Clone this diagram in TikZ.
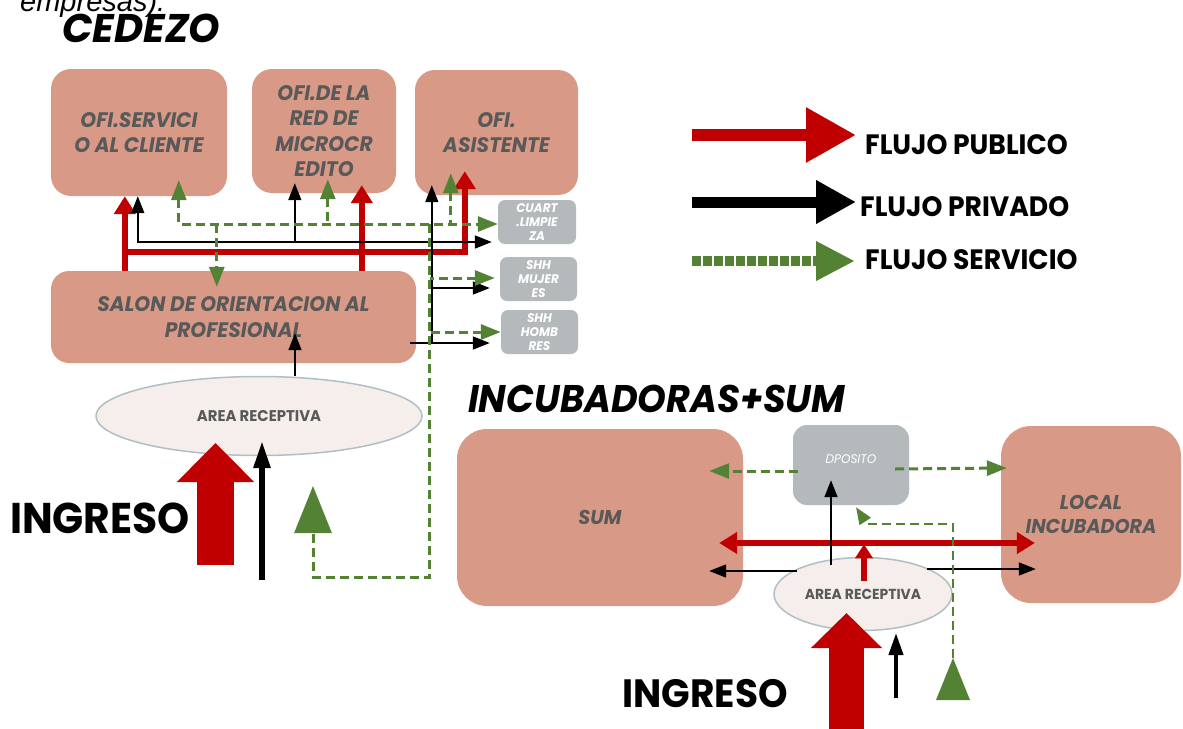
\documentclass[tikz,border=0pt]{standalone}
\usepackage{fontspec}
\setmainfont{Poppins}
\newfontfamily\arialfont{Liberation Sans}
\newfontfamily\boxfont[FakeStretch=0.96]{Poppins}
\newfontfamily\legfont[FakeStretch=0.95]{Poppins}
\usetikzlibrary{arrows.meta,shapes.geometric}
\definecolor{salmon}{RGB}{216,154,135}
\definecolor{boxgray}{RGB}{180,185,188}
\definecolor{txtgray}{RGB}{89,89,89}
\definecolor{pubred}{RGB}{192,0,0}
\definecolor{servgreen}{RGB}{84,130,53}
\definecolor{recfill}{RGB}{245,238,234}
\definecolor{recline}{RGB}{176,190,198}

\begin{document}
\begin{tikzpicture}[x=1pt,y=-1pt,
  office/.style={fill=salmon, rounded corners=20pt, inner sep=0pt, align=center, text=txtgray, font=\boxfont\bfseries\itshape\fontsize{21pt}{25.5pt}\selectfont},
  hall/.style={office, rounded corners=30pt, font=\boxfont\bfseries\itshape\fontsize{20pt}{24pt}\selectfont},
  service/.style={fill=boxgray, rounded corners=7pt, inner sep=0pt, align=center, text=white, minimum width=77pt, minimum height=44pt, font=\boxfont\bfseries\itshape\fontsize{12.5pt}{14pt}\selectfont},
  recep/.style={ellipse, draw=recline, line width=1.5pt, fill=recfill, inner sep=0pt, text=txtgray, font=\boxfont\bfseries\fontsize{15.5pt}{18pt}\selectfont},
  title/.style={anchor=base west, inner sep=0pt, font=\setmainfont{Poppins}\bfseries\itshape\fontsize{40pt}{40pt}\selectfont},
  legtext/.style={anchor=west, inner sep=0pt, font=\legfont\bfseries\fontsize{28pt}{28pt}\selectfont},
  ingtext/.style={inner sep=0pt, font=\legfont\bfseries\fontsize{43pt}{43pt}\selectfont},
  pub/.style={draw=pubred, line width=6.5pt, >={Triangle[width=21pt,length=18pt]}},
  priv/.style={draw=black, line width=1.6pt, >={Triangle[width=13pt,length=17pt]}},
  serv/.style={draw=servgreen, line width=3pt, dash pattern=on 9pt off 5pt, >={Triangle[width=15pt,length=20pt]}}
]
\useasboundingbox (0,0) rectangle (1183,728);

\node[anchor=base west, inner sep=0pt, font=\arialfont\itshape\fontsize{29pt}{29pt}\selectfont] (empresas) at (20,12) {empresas).};
\node[title] (tcedezo) at (62,42) {CEDEZO};
\node[title, font=\legfont\bfseries\itshape\fontsize{38.5pt}{38.5pt}\selectfont] (tincub) at (468,412) {INCUBADORAS+SUM};

\node[office, minimum width=176pt, minimum height=127pt] (ofiserv) at (139,132.5) {OFI.SERVICI\\O AL CLIENTE};
\node[office, minimum width=144pt, minimum height=124pt] (ofired) at (324,131) {OFI.DE LA\\RED DE\\MICROCR\\EDITO};
\node[office, minimum width=163pt, minimum height=125pt] (ofiasis) at (496.5,132.5) {OFI.\\ASISTENTE};
\node[office, rounded corners=18pt, minimum width=365pt, minimum height=92pt] (salon) at (233.5,317) {SALON DE ORIENTACION AL\\PROFESIONAL};
\node[service, minimum width=78pt] (cuart) at (537,222) {CUART\\.LIMPIE\\ZA};
\node[service] (shhmuj) at (538.5,279) {SHH\\MUJER\\ES};
\node[service] (shhhom) at (539.5,332) {SHH\\HOMB\\RES};
\node[recep, minimum width=326pt, minimum height=79pt] (recep1) at (259,416) {AREA RECEPTIVA};

\node[hall, minimum width=286pt, minimum height=177pt] (sum) at (600,517.5) {SUM};
\node[service, rounded corners=14pt, minimum width=116pt, minimum height=80pt, text depth=12pt, font=\boxfont\itshape\fontsize{12.5pt}{14pt}\selectfont] (deposito) at (851,465) {DPOSITO};
\node[hall, minimum width=180pt, minimum height=177pt] (local) at (1091,514.5) {LOCAL\\INCUBADORA};
\node[recep, minimum width=178pt, minimum height=73pt, font=\boxfont\bfseries\fontsize{14.5pt}{16pt}\selectfont] (recep2) at (863,594) {AREA RECEPTIVA};

\draw[pub,->] ([xshift=74]salon.north west) -- ([xshift=74]ofiserv.south west);
\draw[pub,->] ([xshift=311]salon.north west) -- ([xshift=110,yshift=8]ofired.south west);
\draw[pub,->] ([xshift=74,yshift=19]salon.north west) -| ([xshift=50,yshift=24]ofiasis.south west);

\draw[priv,<->] ([xshift=87]ofiserv.south west) |- ([xshift=-6,yshift=-20]cuart.west);
\draw[priv,<-] ([xshift=43,yshift=10]ofired.south west) -- ++(0,59);
\draw[priv,<-] ([xshift=17,yshift=10]ofiasis.south west) -- ++(0,158);
\draw[priv,->] ([xshift=-6,yshift=-26]salon.east) -- ([xshift=-11,yshift=-11]shhhom.west);
\draw[priv,<-] ([xshift=-10,yshift=-9]shhmuj.west) -- ++(-58,0);
\draw[priv,->] ([xshift=36]recep1.north) -- ([xshift=61.5,yshift=30]salon.south);

\draw[serv,<->] ([xshift=128,yshift=16]ofiserv.south west) |- ([yshift=-2]cuart.west);
\draw[serv,->] ([xshift=166,yshift=47]salon.north west) -- ([xshift=166,yshift=-16]salon.north west);
\draw[serv,<-] ([xshift=76,yshift=14]ofired.south west) -- ++(0,45);
\draw[serv,<-] ([xshift=36,yshift=22]ofiasis.south west) -- ++(0,51);
\draw[serv,<-] ([xshift=-5,yshift=1]shhmuj.west) -- ++(-65,0);
\draw[serv,<-] (shhhom.west) -- ++(-71,0);
\coordinate (gtip1) at (313,486);
\draw[serv,-{Triangle[width=37pt,length=47pt]}] ([xshift=15,yshift=-29]ofiasis.south west) -- ++(0,353) -| (gtip1);

\coordinate (in1) at (215.5,565);
\coordinate (in2) at (262,580);
\draw[pubred, line width=37pt, -{Triangle[width=75pt,length=39pt]}] (in1) -- ++(0,-122);
\draw[line width=5.5pt, -{Triangle[width=16pt,length=27pt]}] (in2) -- ++(0,-139);
\node[ingtext] (ing1) at (100,518) {INGRESO};

\draw[pub,<->] ([xshift=-24,yshift=-25.5]sum.east) -- ([xshift=34,yshift=-28.5]local.west);
\draw[pub,line width=6pt,-{Triangle[width=17pt,length=14pt]}] ([xshift=1,yshift=-24.5]recep2.north) -- ([xshift=1,yshift=12.5]recep2.north);
\draw[priv,->] ([xshift=-32,yshift=-8.5]recep2.north) -- ([xshift=-20,yshift=25]deposito.south);
\draw[priv,->] ([xshift=24,yshift=23]recep2.west) -- ([xshift=-34,yshift=-53.5]sum.east);
\draw[priv,->] ([xshift=-26,yshift=25]recep2.east) -- ([xshift=35,yshift=-54.5]local.west);
\draw[serv,->] ([xshift=5,yshift=-6]deposito.west) -- ([xshift=-34,yshift=46.5]sum.east);
\draw[serv,->] ([xshift=-14,yshift=-4]deposito.east) -- ([xshift=6,yshift=46.5]local.west);

\coordinate (in3) at (846.5,735);
\coordinate (in4) at (896,698);
\coordinate (gtip2) at (953,658);
\draw[pubred, line width=35pt, -{Triangle[width=69pt,length=35pt]}] (in3) -- ++(0,-122);
\draw[line width=4pt, -{Triangle[width=14pt,length=22pt]}] (in4) -- ++(0,-65);
\fill[servgreen] (gtip2) -- ++(17,42) -- ++(-34,0) -- cycle;
\draw[serv,line width=2.5pt,->,>={Triangle[width=13pt,length=17pt]}] (gtip2) |- ([xshift=16,yshift=-19]deposito.south) -- ([xshift=5,yshift=-2]deposito.south);
\node[ingtext, font=\legfont\bfseries\fontsize{39.5pt}{39.5pt}\selectfont] (ing2) at (705,694) {INGRESO};

\node[legtext] (lpub) at (865,145) {FLUJO PUBLICO};
\node[legtext] (lpriv) at (860,207) {FLUJO PRIVADO};
\node[legtext] (lserv) at (865,260) {FLUJO SERVICIO};
\draw[pubred, line width=12pt, -{Triangle[width=52pt,length=50pt]}] ([xshift=-173,yshift=10]lpub.west) -- ([xshift=-9,yshift=10]lpub.west);
\draw[line width=11pt, -{Triangle[width=41pt,length=40pt]}] ([xshift=-168,yshift=5]lpriv.west) -- ([xshift=-4,yshift=5]lpriv.west);
\draw[servgreen, line width=10pt, dash pattern=on 9pt off 2pt, -{Triangle[width=37pt,length=39pt]}] ([xshift=-173,yshift=-1]lserv.west) -- ([xshift=-10,yshift=-1]lserv.west);
\end{tikzpicture}
\end{document}
